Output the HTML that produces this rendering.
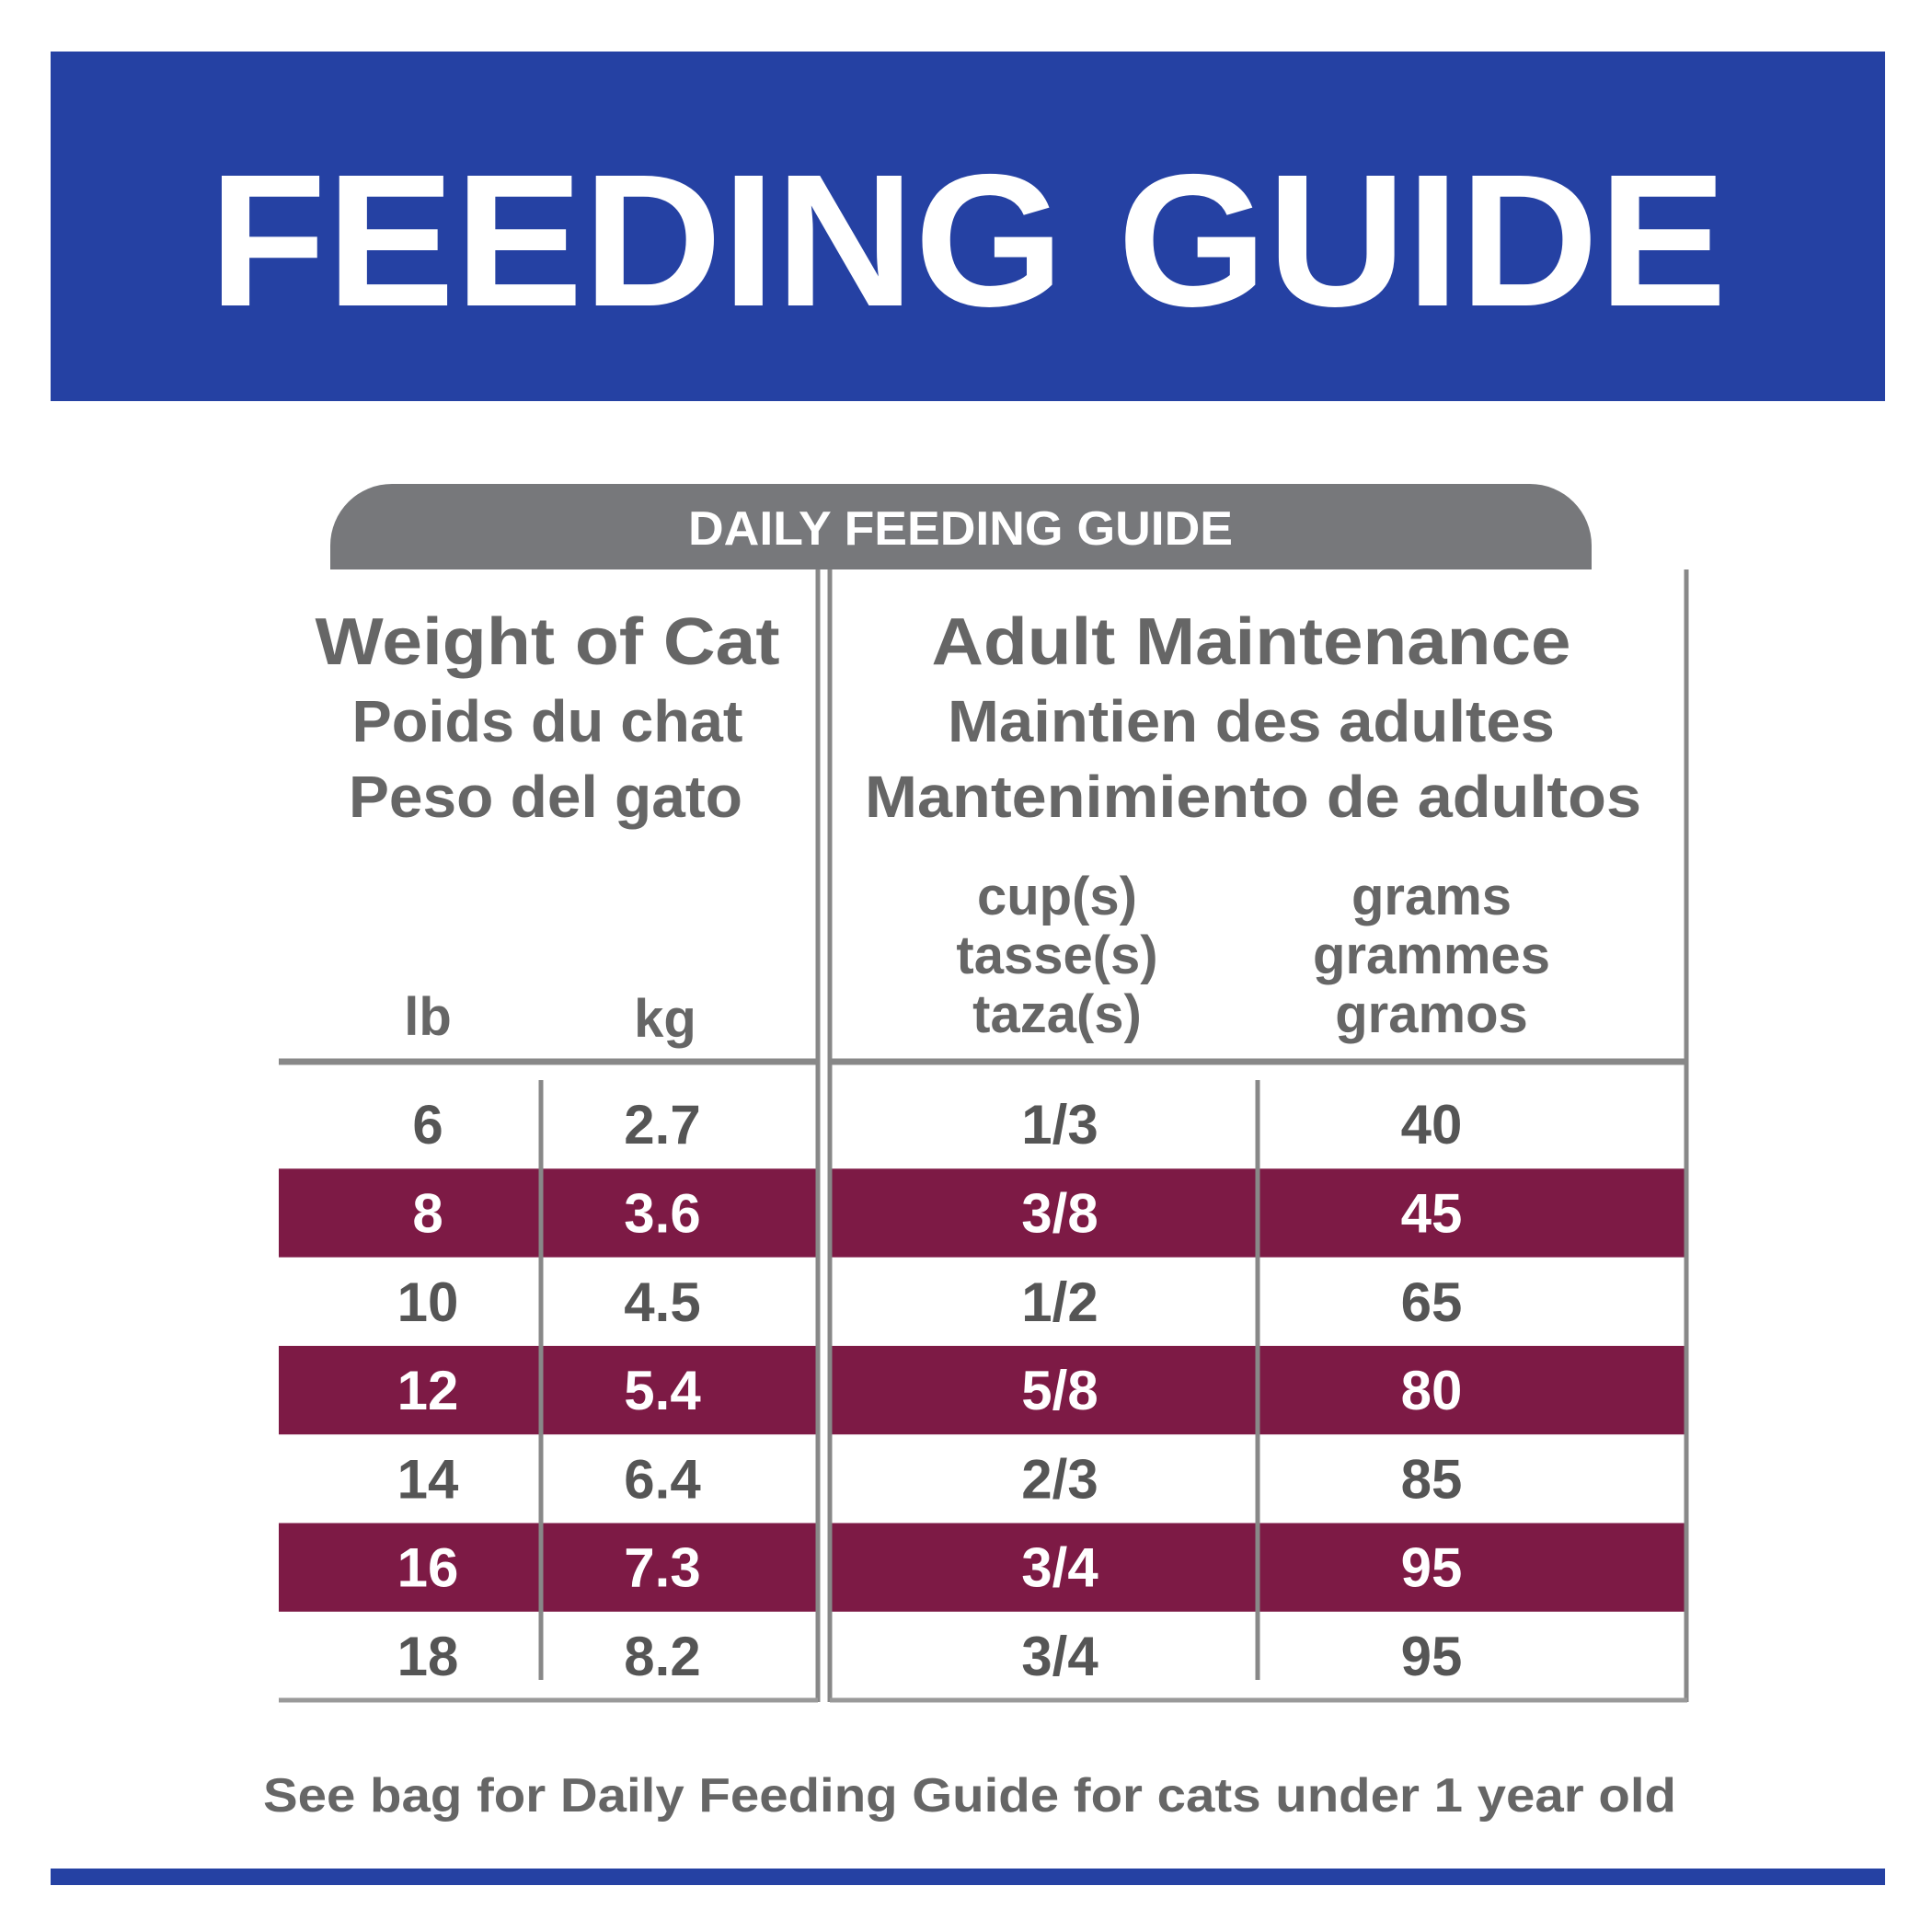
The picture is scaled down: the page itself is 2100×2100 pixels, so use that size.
<!DOCTYPE html>
<html><head><meta charset="utf-8"><style>
html,body{margin:0;padding:0;background:#fff;}
svg{display:block;font-family:"Liberation Sans",sans-serif;}
</style></head><body>
<svg width="2100" height="2100" viewBox="0 0 2100 2100">
<rect x="55" y="56" width="1994" height="380" fill="#2541a3"/>
<text x="1052" y="332" text-anchor="middle" font-size="205" font-weight="bold" fill="#fff" textLength="1650" lengthAdjust="spacingAndGlyphs">FEEDING GUIDE</text>
<path d="M359 619 V593 a67 67 0 0 1 67 -67 H1663 a67 67 0 0 1 67 67 V619 Z" fill="#77787b"/>
<text x="1044" y="592" text-anchor="middle" font-size="52" font-weight="bold" fill="#fff" textLength="592" lengthAdjust="spacingAndGlyphs">DAILY FEEDING GUIDE</text>
<g id="headers" fill="#666" font-weight="bold" text-anchor="middle">
<text x="595" y="722" font-size="72" textLength="505" lengthAdjust="spacingAndGlyphs">Weight of Cat</text>
<text x="595" y="806" font-size="64" textLength="425" lengthAdjust="spacingAndGlyphs">Poids du chat</text>
<text x="593" y="888" font-size="64" textLength="428" lengthAdjust="spacingAndGlyphs">Peso del gato</text>
<text x="1360" y="722" font-size="72" textLength="695" lengthAdjust="spacingAndGlyphs">Adult Maintenance</text>
<text x="1360" y="806" font-size="64" textLength="660" lengthAdjust="spacingAndGlyphs">Maintien des adultes</text>
<text x="1362" y="888" font-size="64" textLength="844" lengthAdjust="spacingAndGlyphs">Mantenimiento de adultos</text>
<text x="1149" y="994" font-size="58">cup(s)</text>
<text x="1149" y="1058" font-size="58">tasse(s)</text>
<text x="1149" y="1122" font-size="58">taza(s)</text>
<text x="1556" y="994" font-size="58">grams</text>
<text x="1556" y="1058" font-size="58">grammes</text>
<text x="1556" y="1122" font-size="58">gramos</text>
<text x="465" y="1125" font-size="58">lb</text>
<text x="723" y="1127" font-size="58">kg</text>
</g>
<g id="table"></g>
<line x1="303" y1="1154" x2="888" y2="1154" stroke="#888" stroke-width="7"/>
<line x1="900" y1="1154" x2="1834" y2="1154" stroke="#888" stroke-width="7"/>
<line x1="889" y1="619" x2="889" y2="1850" stroke="#888" stroke-width="5"/>
<line x1="902" y1="619" x2="902" y2="1850" stroke="#888" stroke-width="5"/>
<line x1="1833" y1="619" x2="1833" y2="1850" stroke="#888" stroke-width="5"/>
<line x1="303" y1="1848" x2="889" y2="1848" stroke="#999" stroke-width="5"/>
<line x1="902" y1="1848" x2="1834" y2="1848" stroke="#999" stroke-width="5"/>
<text x="1054" y="1969" text-anchor="middle" font-size="52" font-weight="bold" fill="#666" textLength="1536" lengthAdjust="spacingAndGlyphs">See bag for Daily Feeding Guide for cats under 1 year old</text>
<rect x="55" y="2031" width="1994" height="18" fill="#2541a3"/>
</svg>
<script>
const lbs=["6","8","10","12","14","16","18"];
const kgs=["2.7","3.6","4.5","5.4","6.4","7.3","8.2"];
const cups=["1/3","3/8","1/2","5/8","2/3","3/4","3/4"];
const grams=["40","45","65","80","85","95","95"];
const NS="http://www.w3.org/2000/svg";
const g=document.getElementById('table');
const top0=1174,rowH=96.3;
const rowY=i=>top0+i*rowH;
const colX=[465,720,1152,1556];
function mk(t,a){const e=document.createElementNS(NS,t);for(const k in a)e.setAttribute(k,a[k]);g.appendChild(e);return e;}
lbs.forEach((v,i)=>{
  const maroon=i%2===1;
  if(maroon){
    const r1=mk('rect',{x:303,y:rowY(i),width:585,height:rowH,fill:'#7d1a45'});
    
    
    const r2=mk('rect',{x:904,y:rowY(i),width:928,height:rowH,fill:'#7d1a45'});
    
    
  }
  const vals=[v,kgs[i],cups[i],grams[i]];
  const names=['lb-cell','kg-cell','cups-cell','grams-cell'];
  vals.forEach((t,j)=>{
    const e=mk('text',{x:colX[j],y:rowY(i)+rowH/2+21,'text-anchor':'middle','font-size':60,'font-weight':'bold',fill:maroon?'#fff':'#555'});
    e.textContent=t;
    
    
  });
});
const l1=mk('line',{x1:588,y1:top0,x2:588,y2:1826,stroke:'#888','stroke-width':5});


const l2=mk('line',{x1:1367,y1:top0,x2:1367,y2:1826,stroke:'#888','stroke-width':5});


</script>
</body></html>
